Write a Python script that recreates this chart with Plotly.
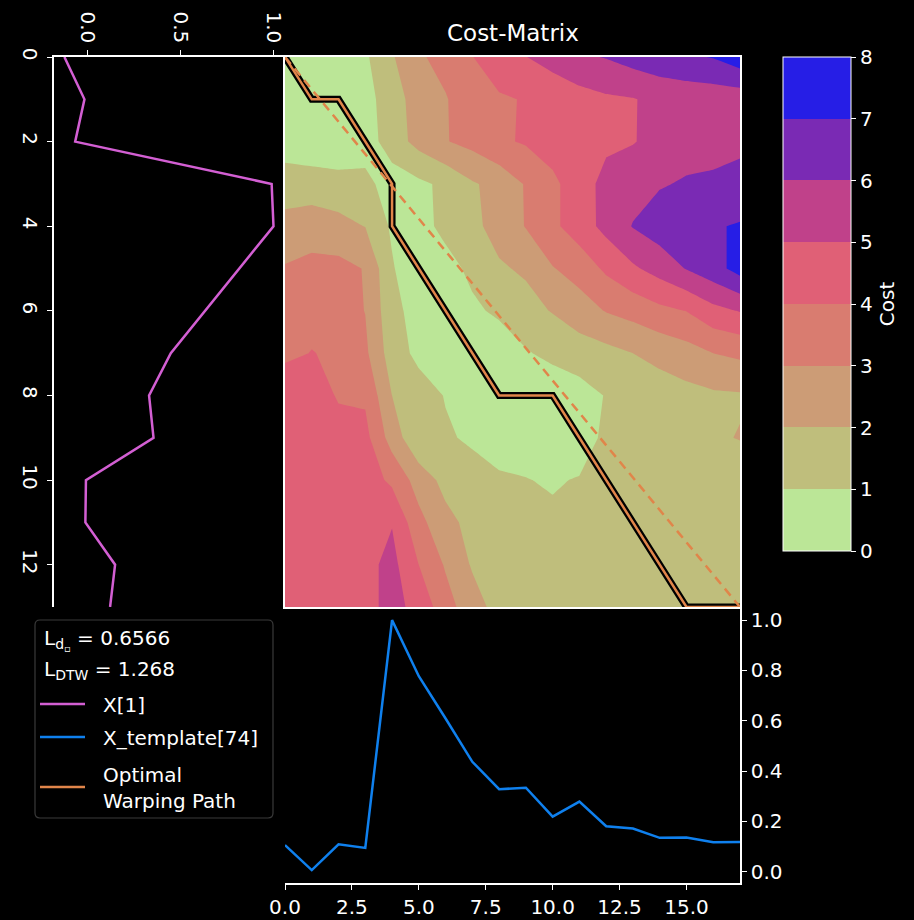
import plotly.graph_objects as go

W, H = 914, 920

# ---------------- data ----------------
x_series = [-0.126, -0.018, -0.068, 0.99, 1.0, 0.815, 0.63, 0.447, 0.33, 0.354,
            -0.01, -0.013, 0.147, 0.12]
template = [0.106, 0.007, 0.109, 0.095, 1.0, 0.777, 0.609, 0.437, 0.328, 0.334,
            0.219, 0.279, 0.181, 0.172, 0.135, 0.136, 0.117, 0.118]

cost_matrix = [
    [0.30, 0.40, 0.60, 0.85, 1.90, 2.90, 3.25, 3.98, 4.50, 4.98, 5.40, 5.85, 6.05, 6.40, 6.65, 6.85, 7.05, 7.60],
    [0.50, 0.10, 0.20, 0.80, 1.30, 2.70, 2.95, 3.45, 3.90, 4.05, 4.30, 4.60, 4.85, 4.95, 5.25, 5.35, 5.40, 5.40],
    [0.60, 0.30, 0.20, 0.50, 1.50, 2.33, 2.95, 3.30, 3.85, 4.10, 4.40, 4.60, 4.80, 4.95, 5.30, 5.60, 5.80, 5.90],
    [1.40, 1.50, 1.40, 1.30, 0.50, 0.80, 1.20, 1.90, 2.30, 3.08, 3.80, 4.50, 5.33, 5.60, 5.92, 6.10, 6.10, 6.15],
    [2.40, 2.50, 2.30, 1.98, 0.85, 0.60, 1.30, 1.80, 2.30, 3.05, 3.80, 4.50, 5.30, 6.05, 6.50, 6.80, 6.90, 7.10],
    [3.07, 3.30, 3.30, 2.95, 1.10, 0.15, 0.60, 1.25, 1.90, 2.12, 2.95, 3.40, 4.18, 4.85, 5.40, 6.05, 6.60, 7.40],
    [3.50, 3.80, 3.40, 2.98, 1.30, 0.60, 0.15, 0.80, 1.20, 1.70, 2.05, 2.55, 3.05, 3.35, 3.75, 4.02, 4.70, 5.05],
    [3.85, 4.02, 3.90, 3.20, 1.50, 0.75, 0.40, 0.10, 0.30, 0.90, 1.30, 1.50, 1.70, 2.00, 2.30, 2.60, 3.00, 3.20],
    [4.50, 4.40, 3.93, 3.85, 2.00, 1.45, 0.95, 0.60, 0.20, 0.15, 0.20, 0.60, 1.05, 1.35, 1.50, 1.70, 1.85, 1.90],
    [4.60, 4.60, 4.30, 4.30, 2.57, 1.15, 1.12, 0.85, 0.50, 0.30, 0.25, 0.10, 1.40, 1.60, 1.75, 1.85, 1.85, 2.05],
    [4.70, 4.80, 4.60, 4.50, 3.80, 2.57, 1.69, 1.40, 1.15, 1.05, 0.85, 1.10, 1.20, 1.40, 1.50, 1.50, 1.50, 1.30],
    [4.60, 4.70, 4.75, 4.60, 4.95, 3.30, 2.30, 1.70, 1.40, 1.25, 1.28, 1.30, 1.30, 1.35, 1.45, 1.50, 1.40, 1.35],
    [4.50, 4.60, 4.70, 4.70, 5.30, 4.00, 2.90, 1.90, 1.60, 1.50, 1.45, 1.40, 1.35, 1.35, 1.40, 1.40, 1.35, 1.40],
    [4.60, 4.70, 4.75, 4.70, 5.30, 4.70, 3.40, 2.42, 1.64, 1.50, 1.45, 1.45, 1.40, 1.45, 1.50, 1.50, 1.45, 1.50],
]

path_j = [0, 1, 2, 3, 4, 4, 5, 6, 7, 8, 9, 10, 11, 12, 13, 14, 15, 16, 17]
path_i = [0, 1, 1, 2, 3, 4, 5, 6, 7, 8, 8, 8, 9, 10, 11, 12, 13, 13, 13]

cost_levels = list(range(9))
band_colors = ["#bbe697", "#bfbe7c", "#cc9c76", "#d97c70",
               "#e06076", "#c0418a", "#7a2ab4", "#261ee6"]

x_label = "X[1]"
t_label = "X_template[74]"
path_label = "Optimal<br>Warping Path"
loss_d = "0.6566"
loss_dtw = "1.268"

C_MAG = "#d35fd3"
C_BLUE = "#0f80ee"
C_ORANGE = "#e0854a"
FONT = "DejaVu Sans"
FS = 20

n_i = len(x_series)
n_j = len(template)
nb = len(band_colors)


def px_x(p):
    return p / W


def px_y(p):
    return 1 - p / H


# stepped colour scale for the filled contour bands (plotly contour mapping)
intervals = []
for k in range(nb):
    a = (k + 1) / (nb + 1)
    b = (k + 0.5) / nb
    intervals.append((min(a, b), max(a, b)))
contour_scale = [[0.0, band_colors[0]]]
for k in range(nb):
    lo = 0.0 if k == 0 else (intervals[k - 1][1] + intervals[k][0]) / 2
    hi = 1.0 if k == nb - 1 else (intervals[k][1] + intervals[k + 1][0]) / 2
    if k > 0:
        contour_scale.append([lo, band_colors[k]])
    contour_scale.append([hi, band_colors[k]])

# stepped colour scale for the colour bar over [0, 8]
bar_scale = []
for k in range(nb):
    bar_scale.append([k / nb, band_colors[k]])
    bar_scale.append([(k + 1) / nb, band_colors[k]])

fig = go.Figure()

fig.add_trace(go.Contour(
    z=cost_matrix, x=list(range(n_j)), y=list(range(n_i)),
    autocontour=False,
    contours=dict(start=cost_levels[0], end=cost_levels[-1], size=1,
                  coloring="fill", showlines=False),
    line=dict(width=0, smoothing=0),
    colorscale=contour_scale,
    showscale=False,
    hoverinfo="skip",
    xaxis="x", yaxis="y", showlegend=False,
))

# colour bar (levels 0..8)
fig.add_trace(go.Scatter(
    x=[None], y=[None], mode="markers", showlegend=False, hoverinfo="skip",
    xaxis="x", yaxis="y",
    marker=dict(color=[cost_levels[0]], cmin=cost_levels[0], cmax=cost_levels[-1],
                colorscale=bar_scale, showscale=True,
                colorbar=dict(
                    x=px_x(783), xanchor="left", xpad=0,
                    y=px_y(57), yanchor="top", ypad=0,
                    len=494 / H, lenmode="fraction",
                    thickness=68, thicknessmode="pixels",
                    outlinecolor="white", outlinewidth=1,
                    tickvals=cost_levels, ticks="outside", ticklen=5,
                    tickcolor="white",
                    tickfont=dict(color="white", size=FS, family=FONT),
                    title=dict(text="Cost", side="right",
                               font=dict(color="white", size=FS, family=FONT)),
                )),
))

# optimal warping path (black halo + orange core) and diagonal
fig.add_trace(go.Scatter(x=path_j, y=path_i, mode="lines",
                         line=dict(color="black", width=7),
                         hoverinfo="skip", showlegend=False,
                         xaxis="x", yaxis="y"))
fig.add_trace(go.Scatter(x=path_j, y=path_i, mode="lines",
                         line=dict(color=C_ORANGE, width=2.5),
                         name="Optimal Warping Path",
                         hoverinfo="skip", showlegend=False,
                         xaxis="x", yaxis="y"))
fig.add_trace(go.Scatter(x=[0, n_j - 1], y=[0, n_i - 1], mode="lines",
                         line=dict(color=C_ORANGE, width=2.5, dash="9px,6px"),
                         hoverinfo="skip", showlegend=False,
                         xaxis="x", yaxis="y"))

# template series (bottom)
fig.add_trace(go.Scatter(x=list(range(n_j)), y=template, mode="lines",
                         line=dict(color=C_BLUE, width=2.5),
                         name=t_label, showlegend=False,
                         xaxis="x2", yaxis="y2"))

# query series (left, vertical)
fig.add_trace(go.Scatter(x=x_series, y=list(range(n_i)), mode="lines",
                         line=dict(color=C_MAG, width=2.5),
                         name=x_label, showlegend=False,
                         xaxis="x3", yaxis="y3"))

axis_common = dict(showgrid=False, zeroline=False, color="white",
                   linecolor="white", linewidth=1.5, automargin=False,
                   tickfont=dict(color="white", size=FS, family=FONT),
                   tickcolor="white", ticklen=5, tickwidth=1.2)
axis_plain = {k: v for k, v in axis_common.items() if k != "tickfont"}

main_x = [px_x(285), px_x(740)]
main_y = [px_y(607), px_y(57)]
left_x = [px_x(54), px_x(285)]
bot_y = [px_y(883), px_y(607)]

fig.update_layout(
    width=W, height=H,
    margin=dict(l=0, r=0, t=0, b=0, autoexpand=False),
    paper_bgcolor="black", plot_bgcolor="black",
    font=dict(family=FONT, color="white", size=FS),
    showlegend=False,
    xaxis=dict(domain=main_x, range=[0, n_j - 1], showticklabels=False,
               ticks="", showline=True, mirror=True, anchor="y", **axis_plain),
    yaxis=dict(domain=main_y, range=[n_i - 1, 0], showticklabels=False,
               ticks="", showline=True, mirror=True, anchor="x", **axis_plain),
    xaxis2=dict(domain=main_x, range=[0, n_j - 1], anchor="y2",
                tickvals=[0, 2.5, 5, 7.5, 10, 12.5, 15], tickformat=".1f",
                ticks="outside", showline=True, side="bottom", **axis_common),
    yaxis2=dict(domain=bot_y, range=[-0.0445, 1.052], anchor="x2",
                side="right", tickvals=[0, 0.2, 0.4, 0.6, 0.8, 1.0],
                tickformat=".1f", ticks="outside", showline=True, **axis_common),
    xaxis3=dict(domain=left_x, range=[-0.182, 1.062], anchor="y3",
                side="top", tickvals=[0, 0.5, 1.0], tickformat=".1f",
                tickangle=90, ticks="outside", showline=True, **axis_common),
    yaxis3=dict(domain=main_y, range=[n_i - 1, 0], anchor="x3",
                tickvals=[0, 2, 4, 6, 8, 10, 12], tickangle=90,
                ticks="outside", showline=True, **axis_common),
)

# title
fig.add_annotation(x=(main_x[0] + main_x[1]) / 2, y=px_y(33), xref="paper", yref="paper",
                   text="Cost-Matrix", showarrow=False, xanchor="center", yanchor="middle",
                   font=dict(color="white", size=23, family=FONT))

# ---------------- custom legend ----------------
lx0, ly0, lx1, ly1, r = 35, 620, 273, 818, 5
path = (f"M {px_x(lx0 + r)},{px_y(ly0)} L {px_x(lx1 - r)},{px_y(ly0)} "
        f"Q {px_x(lx1)},{px_y(ly0)} {px_x(lx1)},{px_y(ly0 + r)} "
        f"L {px_x(lx1)},{px_y(ly1 - r)} Q {px_x(lx1)},{px_y(ly1)} {px_x(lx1 - r)},{px_y(ly1)} "
        f"L {px_x(lx0 + r)},{px_y(ly1)} Q {px_x(lx0)},{px_y(ly1)} {px_x(lx0)},{px_y(ly1 - r)} "
        f"L {px_x(lx0)},{px_y(ly0 + r)} Q {px_x(lx0)},{px_y(ly0)} {px_x(lx0 + r)},{px_y(ly0)} Z")
fig.add_shape(type="path", path=path, xref="paper", yref="paper",
              line=dict(color="#3a3a3a", width=1.2), fillcolor="black", layer="above")

legend_rows = [
    (704, C_MAG, x_label),
    (737, C_BLUE, t_label),
    (787, C_ORANGE, path_label),
]
for yy, col, txt in legend_rows:
    fig.add_shape(type="line", xref="paper", yref="paper",
                  x0=px_x(40), x1=px_x(85), y0=px_y(yy), y1=px_y(yy),
                  line=dict(color=col, width=2.5), layer="above")
    fig.add_annotation(x=px_x(101), y=px_y(yy + 1), xref="paper", yref="paper",
                       text=txt, showarrow=False, xanchor="left", yanchor="middle",
                       align="left", font=dict(color="white", size=FS, family=FONT))

fig.add_annotation(x=px_x(42), y=px_y(640), xref="paper", yref="paper",
                   text=f"L<sub>d<sub>▫</sub></sub> = {loss_d}", showarrow=False,
                   xanchor="left", yanchor="middle",
                   font=dict(color="white", size=FS, family=FONT))
fig.add_annotation(x=px_x(42), y=px_y(670), xref="paper", yref="paper",
                   text=f"L<sub>DTW</sub> = {loss_dtw}", showarrow=False,
                   xanchor="left", yanchor="middle",
                   font=dict(color="white", size=FS, family=FONT))

fig.write_html("out.html")
